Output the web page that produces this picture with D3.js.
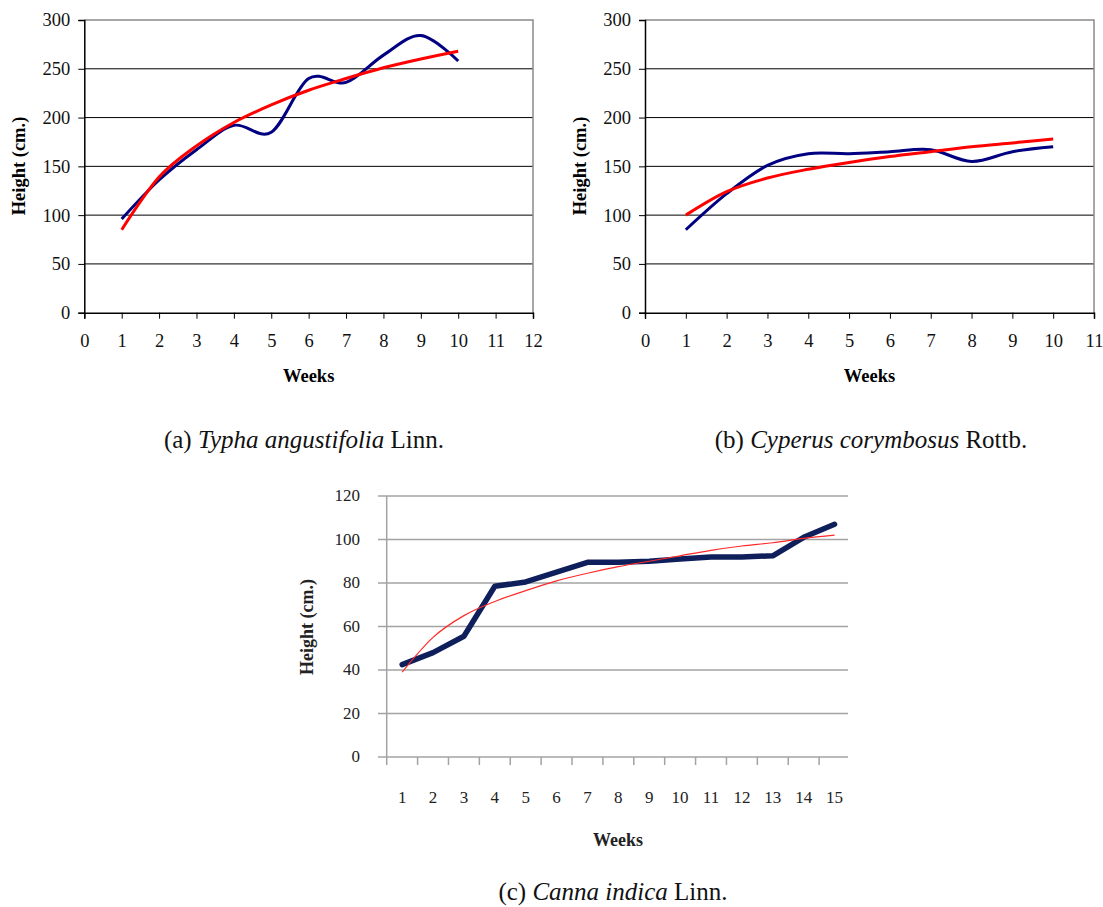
<!DOCTYPE html>
<html>
<head>
<meta charset="utf-8">
<script src="https://cdn.jsdelivr.net/npm/d3@7"></script>
<style>
  html, body { margin: 0; padding: 0; background: #fff; }
  svg { display: block; }
  text { font-family: "Liberation Serif", "Times New Roman", serif; }
</style>
</head>
<body>
<svg id="fig" width="1103" height="907"></svg>
<script>
// ======================
// Dades
// ======================
const weeksA = [1, 2, 3, 4, 5, 6, 7, 8, 9, 10];
const typhaObserved = [96, 136, 167, 192, 185, 240, 236, 264, 284, 258];
const typhaTrend = [85, 139, 171, 195, 213, 228, 240, 251, 260, 268];

const weeksB = [1, 2, 3, 4, 5, 6, 7, 8, 9, 10];
const cyperusObserved = [85, 122, 151, 163, 163, 165, 167, 155, 165, 170];
const cyperusTrend = [100, 124, 138, 147, 154, 160, 165, 170, 174, 178];

const weeksC = [1, 2, 3, 4, 5, 6, 7, 8, 9, 10, 11, 12, 13, 14, 15];
const cannaObserved = [42.5, 48, 55.5, 78.5, 80.5, 85, 89.5, 89.5, 90, 91, 92, 92, 92.5, 101, 107];
const cannaTrend = [39, 55, 65, 71.5, 76.5, 81, 84.5, 87.5, 90, 92.5, 95, 97, 98.5, 100.5, 102];

const yTicksAB = [0, 50, 100, 150, 200, 250, 300];
const yTicksC = [0, 20, 40, 60, 80, 100, 120];

const svg = d3.select("#fig");
svg.append("rect").attr("width", 1103).attr("height", 907).attr("fill", "#fff");

// ======================
// Panells (a) i (b): eix X lineal
// ======================
function drawLinearPanel(cfg) {
  const x = d3.scaleLinear().domain([0, cfg.xMax]).range([cfg.left, cfg.right]);
  const y = d3.scaleLinear().domain([0, 300]).range([312.7, 20]);
  const g = svg.append("g");

  // gridlines
  g.selectAll(".grid")
    .data(yTicksAB.filter(d => d > 0 && d < 300))
    .enter()
    .append("line")
    .attr("x1", cfg.left).attr("x2", cfg.right)
    .attr("y1", d => y(d)).attr("y2", d => y(d))
    .attr("stroke", "#000")
    .attr("stroke-width", 1);

  // marc superior i dret (gris)
  g.append("path")
    .attr("d", `M${cfg.left},${y(300)}H${cfg.right}V${y(0)}`)
    .attr("fill", "none")
    .attr("stroke", "#8a8a8a")
    .attr("stroke-width", 1.5);

  const xAxis = g.append("g")
    .attr("transform", `translate(0,${y(0)})`)
    .call(d3.axisBottom(x).tickValues(d3.range(0, cfg.xMax + 1)).tickSize(6).tickPadding(15).tickFormat(d3.format("d")));
  xAxis.select(".domain").attr("stroke", "#000").attr("stroke-width", 1.5);
  xAxis.selectAll(".tick line").attr("stroke", "#000");
  xAxis.selectAll("text").style("font-size", "18.5px").attr("fill", "#111");

  const yAxis = g.append("g")
    .attr("transform", `translate(${cfg.left},0)`)
    .call(d3.axisLeft(y).tickValues(yTicksAB).tickSize(6).tickPadding(8));
  yAxis.select(".domain").attr("stroke", "#000").attr("stroke-width", 1.5);
  yAxis.selectAll(".tick line").attr("stroke", "#000");
  yAxis.selectAll("text").style("font-size", "18.5px").attr("fill", "#111");

  const observed = d3.line()
    .x((d, i) => x(cfg.weeks[i]))
    .y(d => y(d))
    .curve(d3.curveCardinal.tension(0));

  const trend = d3.line()
    .x((d, i) => x(cfg.weeks[i]))
    .y(d => y(d))
    .curve(d3.curveMonotoneX);

  g.append("path")
    .attr("d", observed(cfg.observed))
    .attr("fill", "none")
    .attr("stroke", "#000080")
    .attr("stroke-width", 3);

  g.append("path")
    .attr("d", trend(cfg.trend))
    .attr("fill", "none")
    .attr("stroke", "#ff0000")
    .attr("stroke-width", 3);

  g.append("text")
    .attr("x", (cfg.left + cfg.right) / 2)
    .attr("y", 382)
    .attr("text-anchor", "middle")
    .text("Weeks")
    .style("font-size", "18.5px")
    .style("font-weight", "bold");

  g.append("text")
    .attr("transform", `translate(${cfg.titleX},166) rotate(-90)`)
    .attr("text-anchor", "middle")
    .text("Height (cm.)")
    .style("font-size", "18.5px")
    .style("font-weight", "bold");
}

drawLinearPanel({ left: 84.3, right: 533, xMax: 12, titleX: 25, weeks: weeksA, observed: typhaObserved, trend: typhaTrend });
drawLinearPanel({ left: 645, right: 1094, xMax: 11, titleX: 586, weeks: weeksB, observed: cyperusObserved, trend: cyperusTrend });

// ======================
// Panell (c): eix de categories
// ======================
(function drawCanna() {
  const x = d3.scaleBand().domain(weeksC).range([386.7, 850]).padding(0);
  const y = d3.scaleLinear().domain([0, 120]).range([757, 496]);
  const g = svg.append("g");
  const grey = "#a3a3a3";

  g.selectAll(".grid")
    .data(yTicksC)
    .enter()
    .append("line")
    .attr("x1", 378).attr("x2", 848)
    .attr("y1", d => y(d)).attr("y2", d => y(d))
    .attr("stroke", grey)
    .attr("stroke-width", 1.5);

  g.append("line")
    .attr("x1", 386.7).attr("x2", 386.7)
    .attr("y1", y(120)).attr("y2", y(0) + 8)
    .attr("stroke", grey)
    .attr("stroke-width", 1.5);

  // marques entre categories
  g.selectAll(".bt")
    .data(weeksC.slice(1))
    .enter()
    .append("line")
    .attr("x1", d => x(d)).attr("x2", d => x(d))
    .attr("y1", y(0)).attr("y2", y(0) + 8)
    .attr("stroke", grey)
    .attr("stroke-width", 1.5);

  g.selectAll(".xl")
    .data(weeksC)
    .enter()
    .append("text")
    .attr("x", d => x(d) + x.bandwidth() / 2)
    .attr("y", 803)
    .attr("text-anchor", "middle")
    .text(d => d)
    .style("font-size", "17px")
    .attr("fill", "#222");

  g.selectAll(".yl")
    .data(yTicksC)
    .enter()
    .append("text")
    .attr("x", 360)
    .attr("y", d => y(d) + 5)
    .attr("text-anchor", "end")
    .text(d => d)
    .style("font-size", "17px")
    .attr("fill", "#222");

  const line = d3.line()
    .x((d, i) => x(weeksC[i]) + x.bandwidth() / 2)
    .y(d => y(d));

  g.append("path")
    .attr("d", line(cannaObserved))
    .attr("fill", "none")
    .attr("stroke", "#0f1f5c")
    .attr("stroke-width", 5.5)
    .attr("stroke-linejoin", "round")
    .attr("stroke-linecap", "round");

  g.append("path")
    .attr("d", line.curve(d3.curveMonotoneX)(cannaTrend))
    .attr("fill", "none")
    .attr("stroke", "#ff2a2a")
    .attr("stroke-width", 1.2);

  g.append("text")
    .attr("x", 618)
    .attr("y", 846)
    .attr("text-anchor", "middle")
    .text("Weeks")
    .style("font-size", "18px")
    .style("font-weight", "bold")
    .attr("fill", "#222");

  g.append("text")
    .attr("transform", "translate(313,627) rotate(-90)")
    .attr("text-anchor", "middle")
    .text("Height (cm.)")
    .style("font-size", "18px")
    .style("font-weight", "bold")
    .attr("fill", "#222");
})();

// ======================
// Peus de figura
// ======================
function caption(xc, yb, size, pre, sp, post) {
  const t = svg.append("text")
    .attr("x", xc)
    .attr("y", yb)
    .attr("text-anchor", "middle")
    .style("font-size", size + "px")
    .attr("fill", "#111");
  t.append("tspan").text(pre);
  t.append("tspan").style("font-style", "italic").text(sp);
  t.append("tspan").text(post);
}

caption(304, 448, 25, "(a) ", "Typha angustifolia", " Linn.");
caption(871, 448, 25, "(b) ", "Cyperus corymbosus", " Rottb.");
caption(613, 900, 25, "(c) ", "Canna indica", " Linn.");
</script>
</body>
</html>
